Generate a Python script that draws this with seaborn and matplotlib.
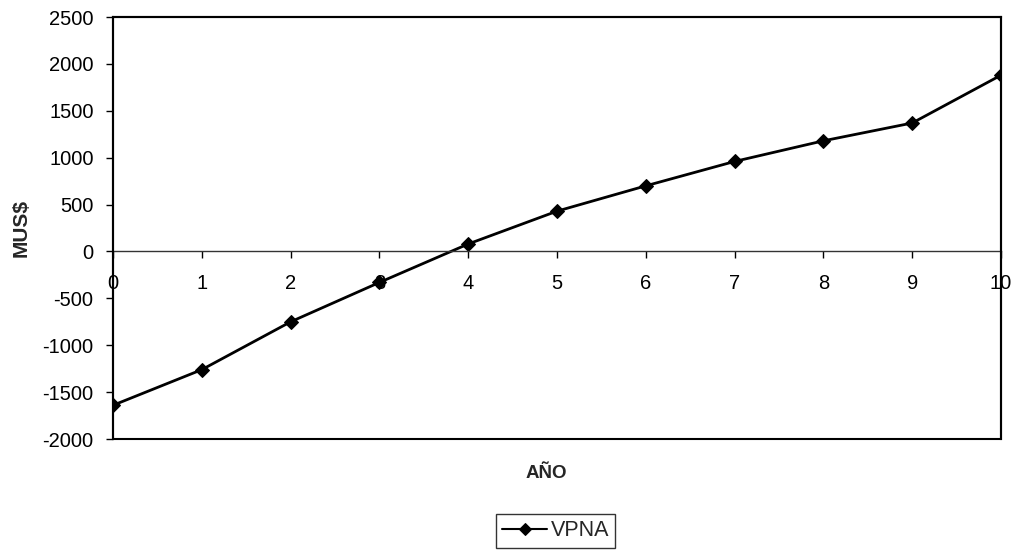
import matplotlib
matplotlib.use("Agg")
import matplotlib.pyplot as plt
import seaborn as sns
import pandas as pd
from matplotlib.patches import Rectangle

# Net present value by project year
years = [0, 1, 2, 3, 4, 5, 6, 7, 8, 9, 10]
vpna = [-1640, -1260, -750, -330, 80, 430, 700, 960, 1180, 1370, 1880]
y_ticks = [-2000, -1500, -1000, -500, 0, 500, 1000, 1500, 2000, 2500]
series_name = "VPNA"

df = pd.DataFrame({"AÑO": years, "MUS$": vpna})

sns.set_theme(style="white")
plt.rcParams["font.family"] = ["Liberation Sans", "DejaVu Sans"]
plt.rcParams["axes.unicode_minus"] = False

fig = plt.figure(figsize=(10.23, 5.53), dpi=100)
ax = fig.add_axes([0.1105, 0.2061, 0.868, 0.7631])

sns.lineplot(data=df, x="AÑO", y="MUS$", ax=ax, color="black",
             linewidth=2.0, marker="D", markersize=7.5,
             markeredgecolor="black", label=series_name)

ax.set_xlim(0, 10)
ax.set_ylim(-2000, 2500)
ax.set_xticks(years)
ax.set_yticks(y_ticks)
ax.tick_params(axis="both", labelsize=14.5, colors="black")
ax.tick_params(axis="y", direction="out", length=5, width=1, pad=9, left=True)
ax.tick_params(axis="x", direction="out", length=5, width=1, pad=11, bottom=True)

# x axis runs along zero; the plot area keeps a full frame
for side in ("left", "right", "top"):
    ax.spines[side].set_color("black")
    ax.spines[side].set_linewidth(1.5)
ax.spines["bottom"].set_position(("data", 0))
ax.spines["bottom"].set_color("#333333")
ax.spines["bottom"].set_linewidth(1.0)
ax.add_patch(Rectangle((0, 0), 1, 1, transform=ax.transAxes, fill=False,
                       edgecolor="black", linewidth=1.5, clip_on=False, zorder=5))

ax.set_xlabel("")
ax.set_ylabel("MUS$", fontsize=15, fontweight="bold")
ax.yaxis.set_label_coords(-0.0925, 0.5)
fig.text(0.5337, 0.1429, "AÑO", ha="center", va="center",
         fontsize=13.5, fontweight="bold")

leg = ax.legend(loc="center", bbox_to_anchor=(0.543, 0.0398),
                bbox_transform=fig.transFigure, fontsize=15.5, frameon=True,
                fancybox=False, handlelength=2.1, handletextpad=0.15,
                borderpad=0.3, borderaxespad=0)
leg.get_frame().set_edgecolor("black")
leg.get_frame().set_linewidth(1.0)
for h in leg.legend_handles:
    h.set_markersize(6)
    h.set_linewidth(1.5)

fig.savefig("out.png", dpi=100)
